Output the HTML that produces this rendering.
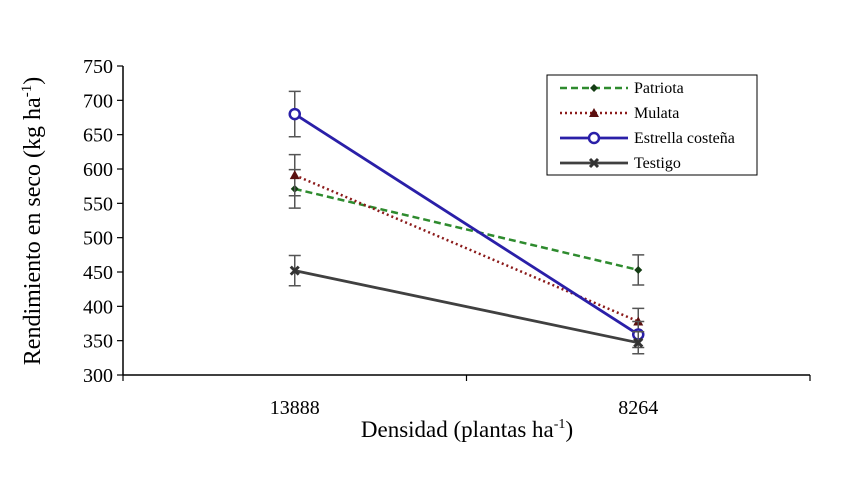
<!DOCTYPE html>
<html><head><meta charset="utf-8"><style>
body{margin:0;background:#fff}
text{font-family:"Liberation Serif",serif;fill:#000}
</style></head><body>
<svg id="chart" width="861" height="472" xmlns="http://www.w3.org/2000/svg">
<g id="axes"></g><g id="series"></g>
<g>
<rect x="547" y="75" width="210" height="100" fill="#fff" stroke="#000" stroke-width="1"/>
<g id="legend-entries"></g>
</g>
<text transform="translate(40,221) rotate(-90)" text-anchor="middle" font-size="24">Rendimiento en seco (kg ha<tspan font-size="15" dy="-9">-1</tspan><tspan dy="9">)</tspan></text>
<text x="467" y="437" text-anchor="middle" font-size="23">Densidad (plantas ha<tspan font-size="14" dy="-9">-1</tspan><tspan dy="9">)</tspan></text>
</svg>
<script>
const categories=["13888","8264"];
const yTicks=[300,350,400,450,500,550,600,650,700,750];
const seriesNames=["Patriota","Mulata","Estrella costeña","Testigo"];
const patriota=[571,453], patriotaErr=[28,22];
const mulata=[591,378], mulataErr=[30,19];
const estrella=[680,359], estrellaErr=[33,19];
const testigo=[452,347], testigoErr=[22,16];
const NS="http://www.w3.org/2000/svg";
const X0=123,X1=810,Y0=375,Y1=66;
const y=v=>Y0-(v-300)*(Y0-Y1)/450;
const bw=(X1-X0)/categories.length;
const x=i=>X0+bw*(i+0.5);
function mk(tag,attrs,parent){const e=document.createElementNS(NS,tag);for(const k in attrs)e.setAttribute(k,attrs[k]);parent.appendChild(e);return e;}
const axes=document.getElementById('axes');
let e=mk('line',{x1:X0,y1:Y1,x2:X0,y2:Y0,stroke:'#000','stroke-width':1.5},axes);


e=mk('line',{x1:X0,y1:Y0,x2:X1,y2:Y0,stroke:'#000','stroke-width':1.5},axes);


yTicks.forEach(t=>{
 mk('line',{x1:X0-6,x2:X0,y1:y(t),y2:y(t),stroke:'#000','stroke-width':1.2},axes);
 const tx=mk('text',{x:X0-10,y:y(t)+7,'text-anchor':'end','font-size':20},axes);tx.textContent=t;
 
 
});
for(let i=0;i<=categories.length;i++) mk('line',{x1:X0+bw*i,x2:X0+bw*i,y1:Y0,y2:Y0+6,stroke:'#000','stroke-width':1.2},axes);
categories.forEach((c,i)=>{const tx=mk('text',{x:x(i),y:414,'text-anchor':'middle','font-size':20},axes);tx.textContent=c;
 
 });
const styles=[
 {vals:patriota,err:patriotaErr,color:'#2e8b2e',dash:'7,4',w:2.5,m:'diamond'},
 {vals:mulata,err:mulataErr,color:'#8b1a1a',dash:'2,3',w:2.5,m:'tri'},
 {vals:estrella,err:estrellaErr,color:'#2a1fa8',dash:'',w:2.8,m:'circle'},
 {vals:testigo,err:testigoErr,color:'#404040',dash:'',w:2.8,m:'x'}];
function marker(m,cx,cy,g){
 if(m==='diamond')mk('path',{d:`M${cx},${cy-4}L${cx+4},${cy}L${cx},${cy+4}L${cx-4},${cy}Z`,fill:'#143d14'},g);
 else if(m==='tri')mk('path',{d:`M${cx},${cy-5}L${cx+5},${cy+4}L${cx-5},${cy+4}Z`,fill:'#5a0f0f'},g);
 else if(m==='circle')mk('circle',{cx,cy,r:5,fill:'#fff',stroke:'#2a1fa8','stroke-width':2.5},g);
 else {mk('path',{d:`M${cx-4},${cy-4}L${cx+4},${cy+4}M${cx+4},${cy-4}L${cx-4},${cy+4}`,stroke:'#333','stroke-width':3},g);}
}
const sg=document.getElementById('series');
styles.forEach((s,k)=>{
 const g=mk('g',{},sg);
 
 
 s.vals.forEach((v,i)=>{const ex=x(i),t=y(v+s.err[i]),b=y(v-s.err[i]);
  mk('path',{d:`M${ex},${t}V${b}M${ex-6},${t}H${ex+6}M${ex-6},${b}H${ex+6}`,stroke:'#555','stroke-width':1.5,fill:'none'},g);});
 mk('polyline',{points:s.vals.map((v,i)=>x(i)+','+y(v)).join(' '),fill:'none',stroke:s.color,'stroke-width':s.w,'stroke-dasharray':s.dash},g);
 s.vals.forEach((v,i)=>marker(s.m,x(i),y(v),g));
 const lg=document.getElementById('legend-entries');
 const ly=88+k*25;
 const le=mk('g',{},lg);
 
 
 mk('line',{x1:560,x2:628,y1:ly,y2:ly,stroke:s.color,'stroke-width':s.w,'stroke-dasharray':s.dash},le);
 marker(s.m,594,ly,le);
 const tx=mk('text',{x:634,y:ly+5,'font-size':16},le);tx.textContent=seriesNames[k];
});
</script>
</body></html>
